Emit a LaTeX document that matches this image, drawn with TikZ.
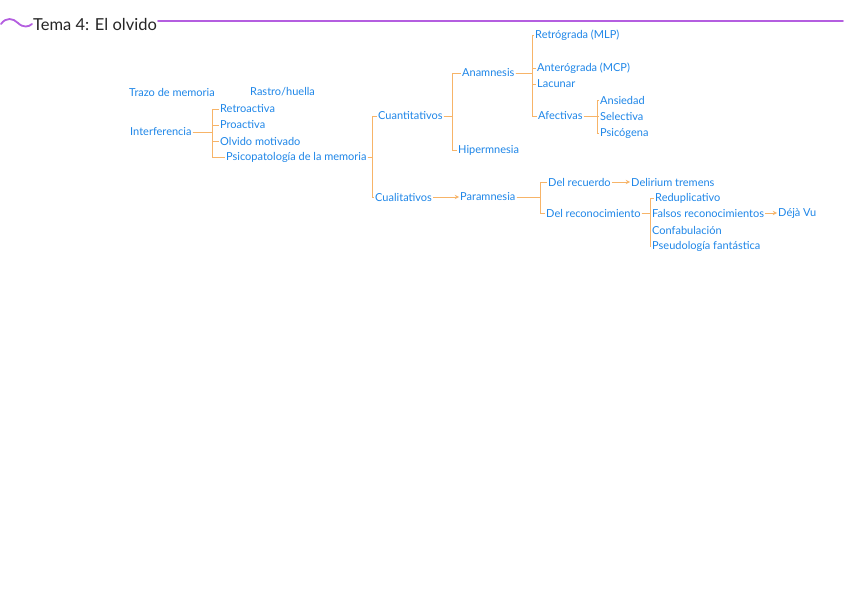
\documentclass[tikz,border=0pt]{standalone}
\usepackage{fontspec}
\setmainfont{Lato}
\usepackage{xcolor}
\usetikzlibrary{arrows,positioning,calc}

\definecolor{memblue}{HTML}{1E86E8}
\definecolor{memorange}{HTML}{F7B468}
\definecolor{mempurple}{HTML}{B45EE0}

\begin{document}
\begin{tikzpicture}[x=1pt, y=-1pt, font=\fontsize{11}{12}\selectfont,
    it/.style={anchor=west, text=memblue, inner sep=1pt},
    br/.style={draw=memorange, line width=0.9pt},
    ar/.style={br, -stealth},
    tl/.style={draw=mempurple, line width=1.8pt, line cap=round}]
    \useasboundingbox[fill=white] (0,0) rectangle (848,599);
    % ---- title bar
    \node[anchor=west, inner sep=1pt, text=black!85,
          font=\fontsize{16.5}{18}\selectfont] (title) at (32,24) {Tema 4: El olvido};
    \coordinate (wave) at (1,24);
    \coordinate (lend) at (843,21);
    \draw[tl] (wave) .. controls (6,17) and (13,18) .. (18,23)
                     .. controls (23,28) and (29,27) .. (title.west);
    \draw[tl] (title.east |- lend) -- (lend);
    % ---- left part
    \node[it] (trazo)  at (128, 92) {Trazo de memoria};
    \node[it] (rastro) at (249, 92) {Rastro/huella};
    \node[it] (inter)  at (129,132) {Interferencia};
    \node[it] (retro)  at (219,109) {Retroactiva};
    \node[it] (pro)    at (219,125) {Proactiva};
    \node[it] (motiv)  at (219,141) {Olvido motivado};
    \node[it] (psico)  at (225,157) {Psicopatología de la memoria};
    % ---- cuantitativos
    \node[it] (cuant)  at (377,116) {Cuantitativos};
    \node[it] (anam)   at (461, 73) {Anamnesis};
    \node[it] (hiper)  at (457,150) {Hipermnesia};
    \node[it] (retrog) at (534, 35) {Retrógrada (MLP)};
    \node[it] (anter)  at (536, 68) {Anterógrada (MCP)};
    \node[it] (lacun)  at (536, 84) {Lacunar};
    \node[it] (afect)  at (537,116) {Afectivas};
    \node[it] (ansie)  at (599,100) {Ansiedad};
    \node[it] (selec)  at (599,116) {Selectiva};
    \node[it] (psicog) at (599,133) {Psicógena};
    % ---- cualitativos
    \node[it] (cual)   at (374,197) {Cualitativos};
    \node[it] (param)  at (459,197) {Paramnesia};
    \node[it] (recu)   at (547,182) {Del recuerdo};
    \node[it] (recon)  at (545,213) {Del reconocimiento};
    \node[it] (delir)  at (630,182) {Delirium tremens};
    \node[it] (redup)  at (654,198) {Reduplicativo};
    \node[it] (falsos) at (651,213) {Falsos reconocimientos};
    \node[it] (deja)   at (777,213) {Déjà Vu};
    \node[it] (confab) at (651,230) {Confabulación};
    \node[it] (pseudo) at (651,246) {Pseudología fantástica};
    % ---- brackets : parent / bracket x / child
    \foreach \u/\x/\v in {inter/212/retro, inter/212/pro, inter/212/motiv, inter/212/psico,
                          psico/372/cuant, psico/372/cual,
                          cuant/452/anam, cuant/452/hiper,
                          anam/532/retrog, anam/532/anter, anam/532/lacun, anam/532/afect,
                          afect/597/ansie, afect/597/selec, afect/597/psicog,
                          param/540/recu, param/540/recon,
                          recon/650/redup, recon/650/falsos, recon/650/confab, recon/650/pseudo}
      { \draw[br] (\u.east) -- (\x,0 |- \u.east) |- (\v.west); }
    \foreach \u/\v in {cual/param, recu/delir, falsos/deja}
      { \draw[ar] (\u) -- (\v); }
\end{tikzpicture}
\end{document}
